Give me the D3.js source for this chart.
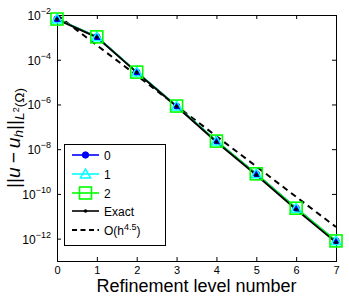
<!DOCTYPE html>
<html><head><meta charset="utf-8">
<script src="https://cdn.jsdelivr.net/npm/d3@7"></script>
<style>body{margin:0;background:#fff}svg{display:block}text{font-family:"Liberation Sans",Arial,sans-serif}</style>
</head><body>
<svg id="c" width="349" height="297"></svg>
<script>
const levels = [0,1,2,3,4,5,6,7];
const series0 = [6.6e-3, 1.05e-3, 2.8e-5, 8.5e-7, 2.3e-8, 7.9e-10, 2.3e-11, 7.9e-13];
const series1 = [6.6e-3, 1.05e-3, 2.8e-5, 8.5e-7, 2.3e-8, 7.9e-10, 2.3e-11, 7.9e-13];
const series2 = [6.6e-3, 1.05e-3, 2.8e-5, 8.5e-7, 2.3e-8, 7.9e-10, 2.3e-11, 7.9e-13];
const exact   = [6.4e-3, 1.0e-3, 2.7e-5, 8.1e-7, 2.1e-8, 7.0e-10, 2.0e-11, 6.8e-13];
const ref45   = [1.0e-2, 4.4e-4, 2.0e-5, 8.6e-7, 3.8e-8, 1.7e-9, 7.4e-11, 3.3e-12];
const yTickExps = [-2,-4,-6,-8,-10,-12];
const legendLabels = ["0","1","2","Exact","O(h"];

const svg = d3.select("#c");
const L=57,R=336,T=15,B=261;
const x = d3.scaleLinear().domain([0,7]).range([L,R]);
const y = d3.scaleLog().domain([1e-13,1e-2]).range([B,T]);

// axes
const gx = svg.append("g").attr("transform",`translate(0,${B})`)
  .call(d3.axisBottom(x).tickValues(levels).tickSize(-4).tickPadding(5).tickFormat(d3.format("d")));
const gxt = svg.append("g").attr("transform",`translate(0,${T})`)
  .call(d3.axisTop(x).tickValues(levels).tickSize(-4).tickFormat(""));
const yt = yTickExps.map(e=>Math.pow(10,e));
const gy = svg.append("g").attr("transform",`translate(${L},0)`)
  .call(d3.axisLeft(y).tickValues(yt).tickSize(-4).tickFormat(""));
const gyr = svg.append("g").attr("transform",`translate(${R},0)`)
  .call(d3.axisRight(y).tickValues(yt).tickSize(-4).tickFormat(""));
[gx,gxt,gy,gyr].forEach(g=>{g.select(".domain").attr("stroke","#000");g.selectAll(".tick line").attr("stroke","#000");});
gx.selectAll(".tick text").attr("font-size",11).attr("font-family","Liberation Sans, Arial, sans-serif").attr("fill","#000");

// y tick labels
yTickExps.forEach(e=>{
  const t = svg.append("text").attr("x",51).attr("y",y(Math.pow(10,e))+5).attr("text-anchor","end")
    .attr("font-size",12);
  t.append("tspan").text("10");
  t.append("tspan").attr("dy",-6).attr("font-size",9).text("\u2212"+Math.abs(e));
});

const line = d3.line().x((d,i)=>x(levels[i])).y(d=>y(d));

// reference dashed
svg.append("path").datum(ref45).attr("d",line).attr("fill","none").attr("stroke","#000")
  .attr("stroke-width",2).attr("stroke-dasharray","6,4.5");

svg.append("path").datum(series0).attr("d",line).attr("fill","none").attr("stroke","#0000ff").attr("stroke-width",1.8);
svg.append("path").datum(series1).attr("d",line).attr("fill","none").attr("stroke","#00ffff").attr("stroke-width",1.5);
svg.append("path").datum(series2).attr("d",line).attr("fill","none").attr("stroke","#00ff00").attr("stroke-width",1.5);
svg.append("path").datum(exact).attr("d",line).attr("fill","none").attr("stroke","#000").attr("stroke-width",1.8);

const tri = d3.symbol().type(d3.symbolTriangle).size(45);
function markers(data, kind){
  const g = svg.append("g");
  data.forEach((v,i)=>drawMarker(g,x(levels[i]),y(v),kind));
}
function drawMarker(g,cx,cy,kind){
  if(kind===0) g.append("circle").attr("cx",cx).attr("cy",cy).attr("r",3.2).attr("fill","#0000ff").attr("stroke","#0000ff");
  if(kind===1) g.append("path").attr("d",tri).attr("transform",`translate(${cx},${cy+1})`).attr("fill","none").attr("stroke","#00ffff").attr("stroke-width",1.5);
  if(kind===2) g.append("rect").attr("x",cx-6).attr("y",cy-6).attr("width",12).attr("height",12).attr("fill","none").attr("stroke","#00ff00").attr("stroke-width",1.6);
  if(kind===3) g.append("circle").attr("cx",cx).attr("cy",cy).attr("r",1.8).attr("fill","#000");
}
markers(series0,0); markers(series1,1); markers(series2,2); markers(exact,3);

// legend
const lg = svg.append("g");
lg.append("rect").attr("x",64.5).attr("y",144.5).attr("width",101).attr("height",101).attr("fill","#fff").attr("stroke","#000").attr("stroke-width",1);
const colors = ["#0000ff","#00ffff","#00ff00","#000","#000"];
const ly = [155,174,193,211,230];
legendLabels.forEach((lab,i)=>{
  const l = lg.append("line").attr("x1",72).attr("x2",99).attr("y1",ly[i]).attr("y2",ly[i]).attr("stroke",colors[i]).attr("stroke-width",i===4?1.8:1.6);
  if(i===4) l.attr("stroke-dasharray","5,3.5");
  if(i<4) drawMarker(lg,85.5,ly[i],i);
  const t = lg.append("text").attr("x",104).attr("y",ly[i]+4.5).attr("font-size",12).text(lab);
  if(i===4){ t.append("tspan").attr("dy",-5).attr("font-size",9).text("4.5"); t.append("tspan").attr("dy",5).text(")"); }
});

// x label
svg.append("text").attr("x",(L+R)/2).attr("y",292).attr("text-anchor","middle").attr("font-size",18).text("Refinement level number");

// y label
function drawYLabel(s){
  svg.select("#ylab").remove();
  const yl = svg.append("text").attr("id","ylab").attr("transform","translate(20,138) rotate(-90)").attr("text-anchor","middle")
    .attr("font-family","Liberation Serif, Times New Roman, serif").attr("font-size",17*s);
  yl.append("tspan").text("||");
  yl.append("tspan").attr("font-style","italic").text("u");
  yl.append("tspan").text("\u2009\u2212\u2009");
  yl.append("tspan").attr("font-style","italic").text("u");
  yl.append("tspan").attr("font-style","italic").attr("font-size",12*s).attr("dy",3).text("h");
  yl.append("tspan").attr("dy",-3).text("||");
  yl.append("tspan").attr("font-style","italic").attr("font-size",12*s).attr("dy",4).text("L");
  yl.append("tspan").attr("font-size",8*s).attr("dy",-5).text("2");
  yl.append("tspan").attr("font-size",12*s).attr("dy",5).text("(\u03A9)");
  return yl;
}
let yl = drawYLabel(1);
const w = yl.node().getComputedTextLength();
if (w > 0) yl = drawYLabel(Math.min(1.3, Math.max(0.7, 100 / w)));
</script>
</body></html>
